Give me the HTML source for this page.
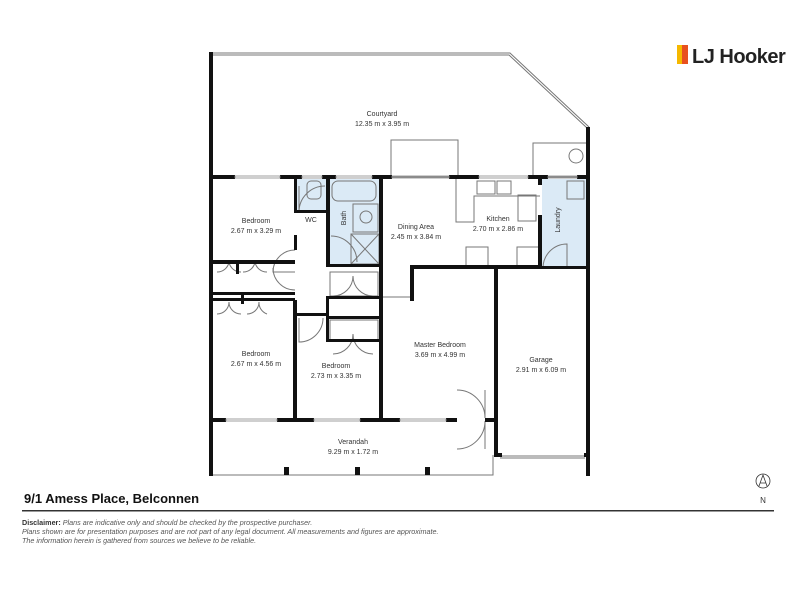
<!DOCTYPE html>
<html><head><meta charset="utf-8"><style>
body{margin:0;background:#fff;width:800px;height:600px;overflow:hidden;font-family:"Liberation Sans",sans-serif}
svg{position:absolute;left:0;top:0}
</style></head><body>
<svg width="800" height="600" viewBox="0 0 800 600" xmlns="http://www.w3.org/2000/svg" font-family="Liberation Sans, sans-serif">
<rect x="297" y="179" width="30" height="32" fill="#dbeaf6"/>
<rect x="330" y="179" width="50" height="85" fill="#dbeaf6"/>
<rect x="542" y="179" width="44" height="88" fill="#dbeaf6"/>
<g fill="none" stroke="#777" stroke-width="1">
<polyline points="213,53 510,53 589,127"/>
<polyline points="213,55 509,55 587,128"/>
<rect x="391" y="140" width="67" height="37"/>
<rect x="533" y="143" width="55" height="34"/>
<circle cx="576" cy="156" r="7"/>
<polyline points="213,475 493,475 493,455"/>
<line x1="500" y1="456" x2="585" y2="456"/>
<line x1="500" y1="458" x2="585" y2="458"/>
<rect x="332" y="181" width="44" height="20" rx="6"/>
<rect x="353" y="204" width="25" height="28"/>
<circle cx="366" cy="217" r="6"/>
<rect x="351" y="234" width="28" height="30"/>
<line x1="351" y1="234" x2="379" y2="264"/><line x1="379" y1="234" x2="351" y2="264"/>
<rect x="307" y="181" width="14" height="18" rx="4"/>
<rect x="477" y="181" width="18" height="13"/><rect x="497" y="181" width="14" height="13"/>
<rect x="518" y="195" width="18" height="26"/>
<polyline points="456,177 456,222 474,222 474,196 540,196"/>
<rect x="466" y="247" width="22" height="20"/><rect x="517" y="247" width="23" height="20"/>
<rect x="567" y="181" width="17" height="18"/>
<line x1="382" y1="297" x2="410" y2="297"/>
<rect x="330" y="272" width="48" height="24"/>
<rect x="330" y="320" width="48" height="20"/>
<path d="M299 212 A26 26 0 0 1 325 186"/><path d="M299 212 L299 186"/>
<path d="M331 236 A26 26 0 0 1 357 262"/>
<path d="M295 250 A22 22 0 0 0 273 272 L295 272"/>
<path d="M295 290 A22 22 0 0 1 273 268"/>
<path d="M299 318 L299 342 A24 24 0 0 0 323 318"/>
<path d="M543 268 A24 24 0 0 1 567 244 L567 268"/>
<path d="M457 390 A28 28 0 0 1 485 418 L485 390"/>
<path d="M457 449 A28 28 0 0 0 485 421 L485 449"/>
<path d="M217 272 A12 12 0 0 0 229 262"/><path d="M241 272 A12 12 0 0 1 229 262"/>
<path d="M243 272 A12 12 0 0 0 255 262"/><path d="M267 272 A12 12 0 0 1 255 262"/>
<path d="M217 314 A12 12 0 0 0 229 302"/><path d="M241 314 A12 12 0 0 1 229 302"/>
<path d="M247 314 A12 12 0 0 0 259 302"/><path d="M267 314 A12 12 0 0 1 259 302"/>
<path d="M333 354 A20 20 0 0 0 353 334"/><path d="M373 354 A20 20 0 0 1 353 334"/>
<path d="M333 296 A20 20 0 0 0 353 276"/><path d="M373 296 A20 20 0 0 1 353 276"/>
</g>
<g fill="#111">
<rect x="209" y="52" width="4" height="424"/>
<rect x="586" y="127" width="4" height="349"/>
<rect x="209" y="175" width="26" height="4"/><rect x="280" y="175" width="22" height="4"/>
<rect x="322" y="175" width="14" height="4"/><rect x="372" y="175" width="20" height="4"/>
<rect x="449" y="175" width="30" height="4"/><rect x="528" y="175" width="20" height="4"/>
<rect x="577" y="175" width="12" height="4"/>
<rect x="294" y="177" width="3" height="36"/><rect x="294" y="210" width="34" height="3"/>
<rect x="326" y="177" width="4" height="90"/><rect x="379" y="177" width="4" height="245"/>
<rect x="326" y="264" width="56" height="3"/>
<rect x="294" y="235" width="3" height="15"/>
<rect x="538" y="177" width="4" height="8"/><rect x="538" y="215" width="4" height="53"/>
<rect x="410" y="265" width="128" height="4"/><rect x="410" y="265" width="4" height="36"/>
<rect x="538" y="266" width="50" height="3"/>
<rect x="213" y="260" width="82" height="4"/><rect x="213" y="292" width="82" height="3"/>
<rect x="213" y="298" width="82" height="3"/>
<rect x="236" y="262" width="3" height="12"/><rect x="241" y="292" width="3" height="12"/>
<rect x="293" y="300" width="4" height="122"/>
<rect x="293" y="313" width="34" height="3"/>
<rect x="326" y="296" width="56" height="3"/><rect x="326" y="316" width="56" height="3"/>
<rect x="326" y="296" width="3" height="45"/><rect x="326" y="339" width="56" height="3"/>
<rect x="494" y="268" width="4" height="187"/><rect x="494" y="453" width="8" height="4"/>
<rect x="584" y="453" width="4" height="4"/>
<rect x="209" y="418" width="17" height="4"/><rect x="277" y="418" width="37" height="4"/>
<rect x="360" y="418" width="40" height="4"/><rect x="446" y="418" width="11" height="4"/>
<rect x="485" y="418" width="13" height="4"/>
<rect x="284" y="467" width="5" height="8"/><rect x="355" y="467" width="5" height="8"/>
<rect x="425" y="467" width="5" height="8"/>
</g>
<g fill="none" stroke="#888" stroke-width="0.8">
<rect x="235" y="176" width="45" height="2"/><rect x="302" y="176" width="20" height="2"/>
<rect x="336" y="176" width="36" height="2"/><rect x="392" y="176" width="57" height="2"/>
<rect x="479" y="176" width="49" height="2"/><rect x="548" y="176" width="29" height="2"/>
<rect x="226" y="419" width="51" height="2"/><rect x="314" y="419" width="46" height="2"/>
<rect x="400" y="419" width="46" height="2"/>
</g>
<g font-size="7" fill="#333" text-anchor="middle">
<text x="382" y="116">Courtyard</text><text x="382" y="126">12.35 m x 3.95 m</text>
<text x="256" y="223">Bedroom</text><text x="256" y="233">2.67 m x 3.29 m</text>
<text x="311" y="222">WC</text>
<text transform="translate(346,218) rotate(-90)">Bath</text>
<text x="416" y="229">Dining Area</text><text x="416" y="239">2.45 m x 3.84 m</text>
<text x="498" y="221">Kitchen</text><text x="498" y="231">2.70 m x 2.86 m</text>
<text transform="translate(560,220) rotate(-90)">Laundry</text>
<text x="256" y="356">Bedroom</text><text x="256" y="366">2.67 m x 4.56 m</text>
<text x="336" y="368">Bedroom</text><text x="336" y="378">2.73 m x 3.35 m</text>
<text x="440" y="347">Master Bedroom</text><text x="440" y="357">3.69 m x 4.99 m</text>
<text x="541" y="362">Garage</text><text x="541" y="372">2.91 m x 6.09 m</text>
<text x="353" y="444">Verandah</text><text x="353" y="454">9.29 m x 1.72 m</text>
</g>
<rect x="677" y="45" width="5" height="19" fill="#f5b800"/>
<rect x="682" y="45" width="6" height="19" fill="#e8501e"/>
<text x="692" y="63" font-size="20" font-weight="bold" fill="#222" letter-spacing="-0.5">LJ Hooker</text>
<circle cx="763" cy="481" r="7" fill="none" stroke="#333" stroke-width="0.8"/>
<path d="M759 486 L763 475 L767 486 M760.5 483 L765.5 483" fill="none" stroke="#333" stroke-width="0.8"/>
<text x="763" y="503" font-size="8" fill="#333" text-anchor="middle">N</text>
<text x="24" y="503" font-size="13" font-weight="bold" fill="#111">9/1 Amess Place, Belconnen</text>
<rect x="22" y="510" width="752" height="1.5" fill="#333"/>
<g font-size="7.2" fill="#555" font-style="italic">
<text x="22" y="525"><tspan font-weight="bold" font-style="normal" fill="#333">Disclaimer:</tspan> Plans are indicative only and should be checked by the prospective purchaser.</text>
<text x="22" y="534">Plans shown are for presentation purposes and are not part of any legal document. All measurements and figures are approximate.</text>
<text x="22" y="543">The information herein is gathered from sources we believe to be reliable.</text>
</g>
</svg>
</body></html>
